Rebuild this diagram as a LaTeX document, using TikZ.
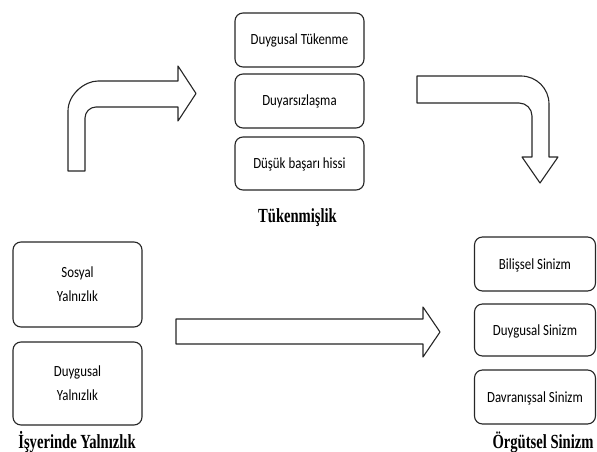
\documentclass[tikz,border=0pt]{standalone}
\usepackage{graphicx}
\usepackage{fontspec}
\setmainfont{Liberation Serif}
\newfontfamily\boxfont{Carlito}
\newcommand{\cnd}[1]{\scalebox{0.83}[1]{#1}}
\newcommand{\lbl}[1]{\scalebox{0.73}[1]{#1}}
\begin{document}
\begin{tikzpicture}[x=1pt,y=-1pt,
  line join=round,
  itembox/.style={draw=black!85, line width=1.1pt, rounded corners=8pt, fill=white,
    inner sep=0pt, align=center, font=\boxfont\fontsize{15.5}{24}\selectfont},
  oneline/.style={text height=10pt, text depth=0pt},
  grouplabel/.style={inner sep=0pt, anchor=base, font=\bfseries\fontsize{20}{24}\selectfont},
  blockarrow/.style={draw=black!85, line width=1.1pt, fill=white}]
\useasboundingbox (0,0) rectangle (597,452);
% middle column
\node[itembox, oneline, minimum width=129pt, minimum height=54pt] (t1) at (299.5,40) {\cnd{Duygusal Tükenme}};
\node[itembox, oneline, minimum width=129pt, minimum height=54pt] (t2) at (299.5,101) {\cnd{Duyarsızlaşma}};
\node[itembox, oneline, minimum width=129pt, minimum height=53pt] (t3) at (299.5,163.5) {\cnd{Düşük başarı hissi}};
\node[grouplabel] (tl) at (297.5,222) {\lbl{Tükenmişlik}};
% left column
\node[itembox, minimum width=129pt, minimum height=85pt] (y1) at (77.5,284.5) {\cnd{Sosyal}\\\cnd{Yalnızlık}};
\node[itembox, minimum width=129pt, minimum height=83pt] (y2) at (77.5,383.5) {\cnd{Duygusal}\\\cnd{Yalnızlık}};
\node[grouplabel] (yl) at (77,448) {\lbl{İşyerinde Yalnızlık}};
% right column
\node[itembox, oneline, minimum width=121pt, minimum height=54pt] (s1) at (535,264) {\cnd{Bilişsel Sinizm}};
\node[itembox, oneline, minimum width=121pt, minimum height=52pt] (s2) at (535,330) {\cnd{Duygusal Sinizm}};
\node[itembox, oneline, minimum width=121pt, minimum height=54pt] (s3) at (535,397) {\cnd{Davranışsal Sinizm}};
\node[grouplabel] (sl) at (543,448) {\lbl{Örgütsel Sinizm}};
% bent arrow up-right
\draw[blockarrow] (68,171) -- (68,111) .. controls (68,94.4) and (84.6,81) .. (98,81)
  -- (178,81) -- (178,66) -- (196,93.5) -- (178,121) -- (178,107) -- (96,107)
  .. controls (89.9,107) and (85,112.1) .. (85,118) -- (85,171) -- cycle;
% bent arrow right-down
\draw[blockarrow] (417,76) -- (521,76) .. controls (536.5,76) and (549,88.5) .. (549,104)
  -- (549,157) -- (558,157) -- (540,183) -- (522,157) -- (532,157) -- (532,116)
  .. controls (532,108.8) and (526.2,103) .. (519,103) -- (417,103) -- cycle;
% straight arrow
\draw[blockarrow] (176,319) -- (423,319) -- (423,307) -- (440,332) -- (423,357)
  -- (423,344) -- (176,344) -- cycle;
\end{tikzpicture}
\end{document}
